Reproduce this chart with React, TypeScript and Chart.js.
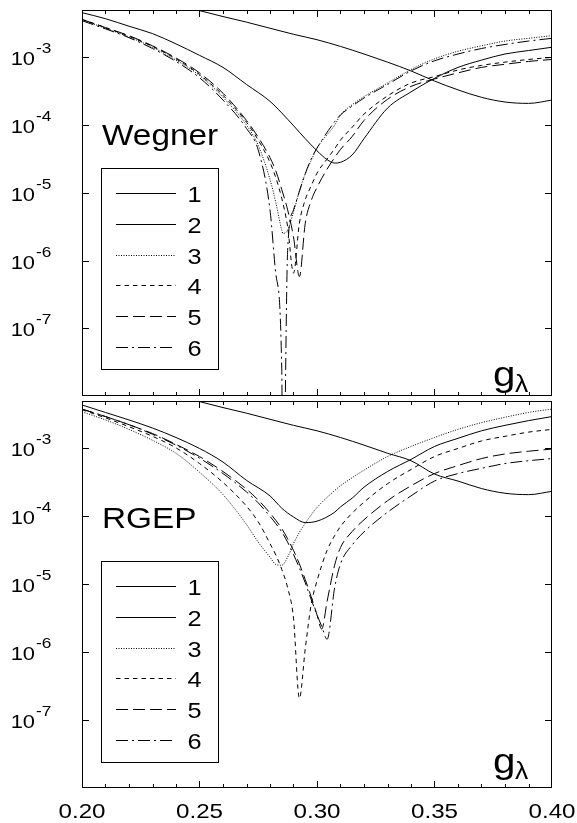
import { useEffect, useRef } from "react";
import { Chart, registerables } from "chart.js";

Chart.register(...registerables);

// g_lambda sample positions shared by all curves (null = not read at that position)
const gGrid = [
  0.2, 0.21, 0.22, 0.23, 0.24, 0.25, 0.26, 0.27, 0.275, 0.28, 0.2825, 0.285, 0.2855, 0.2875, 0.29, 0.2925,
  0.295, 0.2975, 0.3, 0.302, 0.3043, 0.3075, 0.31, 0.315, 0.32, 0.33, 0.34, 0.35, 0.36, 0.37, 0.38, 0.39, 0.4,
];

const seriesLabels = ["1", "2", "3", "4", "5", "6"];

// ---- Wegner panel ----
const wegner1 = [
  null, null, null, null, 5.9e-3, 4.9e-3, 4.0e-3, 3.31e-3, null, 2.69e-3, null, null, null, null, 2.19e-3, null,
  null, null, 1.82e-3, null, null, null, 1.45e-3, null, 1.12e-3, 8.5e-4, 6.3e-4, 4.47e-4, 3.31e-4, 2.57e-4, 2.19e-4, 2.09e-4, 2.34e-4,
];
const wegner2 = [
  4.57e-3, 3.72e-3, 2.88e-3, 2.24e-3, 1.58e-3, 1.07e-3, 7.1e-4, 3.98e-4, null, 2.24e-4, null, 1.51e-4, null, null, 9.8e-5, null,
  6.3e-5, null, 4.17e-5, null, 3.09e-5, 2.75e-5, 2.82e-5, 3.63e-5, 6.3e-5, 1.78e-4, 3.09e-4, 4.9e-4, 7.1e-4, 9.1e-4, 1.12e-3, 1.26e-3, 1.41e-3,
];
const wegner3 = [
  3.55e-3, 2.69e-3, 2.0e-3, 1.41e-3, 9.1e-4, 5.4e-4, 2.57e-4, 1.0e-4, 5.0e-5, 1.58e-5, 7.1e-6, 2.82e-6, 2.51e-6, 2.82e-6, 5.2e-6, 1.05e-5,
  1.91e-5, 3.0e-5, 4.57e-5, null, null, 1.0e-4, 1.41e-4, 2.0e-4, 2.63e-4, 4.17e-4, 6.6e-4, 9.5e-4, 1.23e-3, 1.48e-3, 1.74e-3, 1.91e-3, 2.09e-3,
];
const wegner4 = [
  3.63e-3, 2.75e-3, 2.04e-3, 1.45e-3, 9.5e-4, 5.6e-4, 2.75e-4, 1.1e-4, 6.0e-5, 2.82e-5, 1.66e-5, 8.3e-6, null, 3.16e-6, 6.5e-7, 3.55e-6,
  7.9e-6, 1.26e-5, 1.95e-5, null, 3.16e-5, 4.47e-5, 6.0e-5, 9.3e-5, 1.45e-4, 2.69e-4, 4.17e-4, 5.2e-4, 6.5e-4, 7.6e-4, 8.5e-4, 9.3e-4, 1.0e-3,
];
const wegner5 = [
  3.63e-3, 2.75e-3, 2.09e-3, 1.48e-3, 9.8e-4, 5.9e-4, 2.95e-4, 1.17e-4, 6.6e-5, 3.31e-5, 2.09e-5, 1.12e-5, null, 5.6e-6, 2.24e-6, 5.8e-7,
  3.55e-6, 7.6e-6, 1.2e-5, null, 2.24e-5, 3.31e-5, 4.37e-5, 6.8e-5, 1.17e-4, 2.4e-4, 3.72e-4, 4.79e-4, 5.9e-4, 7.1e-4, 7.9e-4, 8.7e-4, 9.3e-4,
];
const wegner6 = [
  3.47e-3, 2.63e-3, 1.95e-3, 1.35e-3, 8.7e-4, 5.0e-4, 2.34e-4, 8.9e-5, 4.27e-5, 5.6e-6, 6.3e-7, 2.51e-8, 1e-10, 1.41e-6, 5.6e-6, 1.05e-5,
  1.91e-5, 3.16e-5, 4.57e-5, null, null, 1.12e-4, 1.41e-4, 1.91e-4, 2.51e-4, 3.98e-4, 6.3e-4, 8.9e-4, 1.12e-3, 1.35e-3, 1.55e-3, 1.74e-3, 1.91e-3,
];

// ---- RGEP panel ----
const rgep1 = [
  null, null, null, null, 5.9e-3, 4.9e-3, 4.0e-3, 3.31e-3, null, 2.69e-3, null, null, null, null, 2.19e-3, null,
  null, null, 1.82e-3, null, null, null, 1.45e-3, null, 1.12e-3, 8.5e-4, 6.6e-4, 4.2e-4, 3.31e-4, 2.57e-4, 2.19e-4, 2.09e-4, 2.34e-4,
];
const rgep2 = [
  4.37e-3, 3.39e-3, 2.63e-3, 2.0e-3, 1.45e-3, 1.0e-3, 6.3e-4, 3.39e-4, null, 2.0e-4, null, 1.32e-4, null, null, 9.8e-5, null,
  8.1e-5, null, 8.5e-5, null, null, 1.15e-4, 1.38e-4, 1.86e-4, 2.69e-4, 4.57e-4, 6.9e-4, 1.07e-3, 1.41e-3, 1.82e-3, 2.19e-3, 2.57e-3, 2.95e-3,
];
const rgep3 = [
  3.47e-3, 2.63e-3, 1.91e-3, 1.32e-3, 8.5e-4, 4.47e-4, 2.09e-4, 7.6e-5, 4.17e-5, 2.51e-5, 1.95e-5, 1.91e-5, null, 2.51e-5, 3.98e-5, 5.8e-5,
  7.9e-5, 1.05e-4, 1.35e-4, null, null, 2.4e-4, 2.82e-4, 3.72e-4, 4.79e-4, 7.6e-4, 1.07e-3, 1.45e-3, 1.91e-3, 2.4e-3, 2.88e-3, 3.39e-3, 3.8e-3,
];
const rgep4 = [
  3.72e-3, 2.82e-3, 2.09e-3, 1.51e-3, 1.02e-3, 6.0e-4, 3.16e-4, 1.41e-4, 8.3e-5, 3.98e-5, 2.69e-5, 1.66e-5, null, 8.9e-6, 3.16e-6, 2.09e-7,
  1.12e-6, 5.0e-6, 1.12e-5, null, 3.16e-5, 5.2e-5, 7.1e-5, 1.12e-4, 1.62e-4, 3.02e-4, 4.9e-4, 7.6e-4, 1.0e-3, 1.29e-3, 1.51e-3, 1.74e-3, 1.91e-3,
];
const rgep5 = [
  3.8e-3, 2.95e-3, 2.24e-3, 1.66e-3, 1.15e-3, 7.6e-4, 4.57e-4, 2.51e-4, 1.74e-4, 1.12e-4, 8.7e-5, 6.6e-5, null, 4.68e-5, 3.16e-5, 2.0e-5,
  1.17e-5, 6.6e-6, 3.55e-6, 2.19e-6, 5.6e-6, 1.91e-5, 3.47e-5, 6.0e-5, 8.9e-5, 1.7e-4, 2.82e-4, 4.27e-4, 5.6e-4, 7.1e-4, 8.3e-4, 9.1e-4, 9.8e-4,
];
const rgep6 = [
  3.8e-3, 2.95e-3, 2.24e-3, 1.62e-3, 1.12e-3, 7.2e-4, 4.27e-4, 2.29e-4, 1.58e-4, 1.0e-4, 7.8e-5, 5.9e-5, null, 4.17e-5, 2.75e-5, 1.74e-5,
  1.05e-5, 6.0e-6, 3.55e-6, 2.4e-6, 1.55e-6, 8.9e-6, 2.0e-5, 3.8e-5, 5.9e-5, 1.15e-4, 2.0e-4, 3.31e-4, 4.27e-4, 5.1e-4, 6.0e-4, 6.6e-4, 7.1e-4,
];

// ---- axes ----
const xMajorTicks = [0.25, 0.3, 0.35];
const xMinorTicks = [0.21, 0.22, 0.23, 0.24, 0.26, 0.27, 0.28, 0.29, 0.31, 0.32, 0.33, 0.34, 0.36, 0.37, 0.38, 0.39];
const xLabelValues = [0.2, 0.25, 0.3, 0.35, 0.4];
const xLabelTexts = ["0.20", "0.25", "0.30", "0.35", "0.40"];
const yTickValues = [1e-3, 1e-4, 1e-5, 1e-6, 1e-7];
const yTickExponents = ["-3", "-4", "-5", "-6", "-7"];

const lineDashes = [[], [], [1, 1.5], [4.5, 4], [12, 5], [12, 4, 2, 4]];

const FONT = '"Liberation Sans", Arial, Helvetica, sans-serif';
const STRETCH = 1.15;

function drawText(ctx: CanvasRenderingContext2D, text: string, x: number, y: number, size: number, align: string) {
  ctx.save();
  ctx.font = `${size}px ${FONT}`;
  ctx.textAlign = "left";
  ctx.textBaseline = "alphabetic";
  const w = ctx.measureText(text).width * STRETCH;
  let x0 = x;
  if (align === "center") x0 = x - w / 2;
  else if (align === "right") x0 = x - w;
  ctx.translate(x0, y);
  ctx.scale(STRETCH, 1);
  ctx.fillStyle = "#000";
  ctx.fillText(text, 0, 0);
  ctx.restore();
}

type PanelCfg = {
  title: string;
  series: (number | null)[][];
  height: number;
  padTop: number;
  padBottom: number;
  titleBaseline: number;
  legendTop: number;
  gBaseline: number;
  showXLabels: boolean;
};

function makeDecor(p: PanelCfg) {
  return {
    id: "decor",
    afterDraw(chart: any) {
      const ctx: CanvasRenderingContext2D = chart.ctx;
      const a = chart.chartArea;
      const xs = chart.scales.x;
      const ys = chart.scales.y;
      ctx.save();
      ctx.strokeStyle = "#000";
      ctx.lineWidth = 1;
      ctx.setLineDash([]);
      ctx.strokeRect(a.left + 0.5, a.top + 0.5, a.right - a.left - 1, a.bottom - a.top - 1);
      ctx.beginPath();
      const tickX = (v: number, len: number) => {
        const px = Math.round(xs.getPixelForValue(v)) + 0.5;
        ctx.moveTo(px, a.top);
        ctx.lineTo(px, a.top + len);
        ctx.moveTo(px, a.bottom);
        ctx.lineTo(px, a.bottom - len);
      };
      xMinorTicks.forEach((v) => tickX(v, 4));
      xMajorTicks.forEach((v) => tickX(v, 7));
      yTickValues.forEach((v) => {
        const py = Math.round(ys.getPixelForValue(v)) + 0.5;
        ctx.moveTo(a.left, py);
        ctx.lineTo(a.left + 7, py);
        ctx.moveTo(a.right, py);
        ctx.lineTo(a.right - 7, py);
      });
      ctx.stroke();

      yTickValues.forEach((v, i) => {
        const py = ys.getPixelForValue(v);
        drawText(ctx, "10", 35, py + 8, 19, "right");
        drawText(ctx, yTickExponents[i], 36, py - 4, 15, "left");
      });

      if (p.showXLabels) {
        xLabelValues.forEach((v, i) => {
          drawText(ctx, xLabelTexts[i], xs.getPixelForValue(v), a.bottom + 30, 21, "center");
        });
      }

      // panel title
      drawText(ctx, p.title, a.left + 20, p.titleBaseline, 29, "left");

      // g_lambda label
      drawText(ctx, "g", a.right - 59, p.gBaseline, 35, "left");
      drawText(ctx, "λ", a.right - 37, p.gBaseline + 6, 23, "left");

      // legend box
      const bx = a.left + 19;
      const by = p.legendTop;
      ctx.fillStyle = "#fff";
      ctx.fillRect(bx, by, 117, 201);
      ctx.strokeRect(bx + 0.5, by + 0.5, 117, 201);
      chart.data.datasets.forEach((ds: any, i: number) => {
        const ly = Math.round(by + 25 + i * 30.8) + 0.5;
        ctx.setLineDash(ds.borderDash || []);
        ctx.beginPath();
        ctx.moveTo(bx + 15, ly);
        ctx.lineTo(bx + 75, ly);
        ctx.stroke();
        ctx.setLineDash([]);
        drawText(ctx, ds.label, bx + 93.5, ly + 8, 22, "center");
      });
      ctx.restore();
    },
  };
}

function Panel({ cfg }: { cfg: PanelCfg }) {
  const ref = useRef<HTMLCanvasElement | null>(null);
  useEffect(() => {
    if (!ref.current) return;
    const datasets = cfg.series.map((s, i) => ({
      label: seriesLabels[i],
      data: s.map((y, j) => ({ x: gGrid[j], y })),
      borderColor: "#000",
      borderWidth: 1,
      borderDash: lineDashes[i],
      pointRadius: 0,
      fill: false,
      cubicInterpolationMode: "monotone" as const,
      spanGaps: true,
    }));
    const chart = new Chart(ref.current, {
      type: "line",
      data: { datasets },
      options: {
        animation: false,
        responsive: false,
        maintainAspectRatio: false,
        devicePixelRatio: 1,
        layout: { padding: { left: 82, right: 25, top: cfg.padTop, bottom: cfg.padBottom } },
        elements: { line: { capBezierPoints: false } },
        plugins: { legend: { display: false }, tooltip: { enabled: false } },
        scales: {
          x: { type: "linear", min: 0.2, max: 0.4, display: false },
          y: { type: "logarithmic", min: 1e-8, max: 5e-3, display: false },
        },
      },
      plugins: [makeDecor(cfg)],
    });
    return () => chart.destroy();
  }, [cfg]);
  return (
    <canvas
      ref={ref}
      width={577}
      height={cfg.height}
      style={{ display: "block", width: 577, height: cfg.height }}
    />
  );
}

const topCfg: PanelCfg = {
  title: "Wegner",
  series: [wegner1, wegner2, wegner3, wegner4, wegner5, wegner6],
  height: 399,
  padTop: 10,
  padBottom: 3,
  titleBaseline: 145,
  legendTop: 168,
  gBaseline: 386,
  showXLabels: false,
};

const bottomCfg: PanelCfg = {
  title: "RGEP",
  series: [rgep1, rgep2, rgep3, rgep4, rgep5, rgep6],
  height: 424,
  padTop: 2,
  padBottom: 35,
  titleBaseline: 129,
  legendTop: 162,
  gBaseline: 374,
  showXLabels: true,
};

export default function App() {
  return (
    <div style={{ position: "absolute", left: 0, top: 0, width: 577, height: 823, background: "#fff" }}>
      <Panel cfg={topCfg} />
      <Panel cfg={bottomCfg} />
    </div>
  );
}
